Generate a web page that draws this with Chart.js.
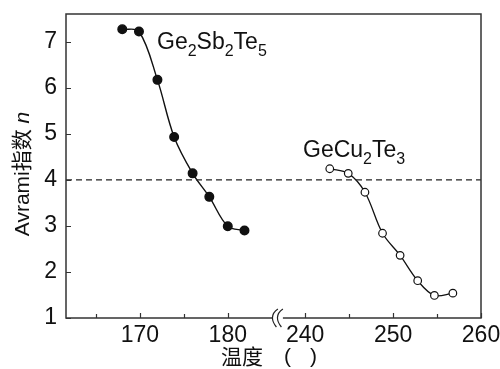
<!DOCTYPE html>
<html>
<head>
<meta charset="utf-8">
<script src="https://cdn.jsdelivr.net/npm/chart.js@4.4.1/dist/chart.umd.min.js"></script>
<style>
html,body{margin:0;padding:0;background:#fff;}
#wrap{width:500px;height:369px;}
</style>
</head>
<body>
<div id="wrap"><canvas id="c" width="500" height="369"></canvas></div>
<script>
// ---- data ----
const gstTemps = [168.0, 169.9, 172.0, 173.9, 176.0, 177.9, 180.0, 181.9];
const gstN     = [7.27, 7.22, 6.17, 4.93, 4.14, 3.63, 2.99, 2.90];
const gctTemps = [242.8, 244.9, 246.8, 248.8, 250.8, 252.8, 254.7, 256.8];
const gctN     = [4.24, 4.14, 3.73, 2.84, 2.36, 1.81, 1.49, 1.54];
const thresholdN = 4;
const xMajorTicks = [170, 180, 240, 250, 260];
const xMinorTicks = [165, 175, 245, 255];
const yTicks = [1, 2, 3, 4, 5, 6, 7];

// broken-axis mapping (right segment shifted left)
const GAP = 51.2;      // degrees removed by the axis break
const SPLIT = 210;     // temps above this belong to the right segment
const X_MIN = 161.6, X_MAX = 260 - GAP;
const BREAK_AT = 185.7;
const Y_MIN = 1, Y_MAX = 7.6;
const toAxis = t => t > SPLIT ? t - GAP : t;
const fromAxis = v => v > BREAK_AT ? v + GAP : v;

const FONT = "'Liberation Sans', Arial, Helvetica, sans-serif";
const CJK = "'Liberation Sans', 'Noto Sans CJK SC', 'Noto Sans CJK JP', sans-serif";
const INK = '#111';

const gstData = gstTemps.map((t, i) => ({x: toAxis(t), y: gstN[i]}));
const gctData = gctTemps.map((t, i) => ({x: toAxis(t), y: gctN[i]}));
const dashData = [{x: X_MIN, y: thresholdN}, {x: X_MAX, y: thresholdN}];

function drawSubText(ctx, x, y, parts, size) {
  let cx = x;
  for (const [s, sub] of parts) {
    ctx.font = (sub ? Math.round(size * 0.68) : size) + 'px ' + FONT;
    ctx.fillText(s, cx, sub ? y + size * 0.32 : y);
    cx += ctx.measureText(s).width;
  }
}

const decor = {
  id: 'decor',
  afterDatasetsDraw(chart) {
    const ctx = chart.ctx, a = chart.chartArea;
    const xs = chart.scales.x, ys = chart.scales.y;
    ctx.save();
    // frame
    ctx.strokeStyle = '#333';
    ctx.lineWidth = 1.5;
    ctx.strokeRect(a.left, a.top, a.right - a.left, a.bottom - a.top);
    // inward ticks
    ctx.lineWidth = 1.2;
    ctx.beginPath();
    for (const v of yTicks) {
      const py = Math.round(ys.getPixelForValue(v)) + 0.5;
      ctx.moveTo(a.left, py); ctx.lineTo(a.left + 5, py);
    }
    for (const t of xMajorTicks) {
      const px = Math.round(xs.getPixelForValue(toAxis(t))) + 0.5;
      ctx.moveTo(px, a.bottom); ctx.lineTo(px, a.bottom - 5);
    }
    for (const t of xMinorTicks) {
      const px = Math.round(xs.getPixelForValue(toAxis(t))) + 0.5;
      ctx.moveTo(px, a.bottom); ctx.lineTo(px, a.bottom - 4);
    }
    ctx.stroke();
    // axis break
    const bx = xs.getPixelForValue(BREAK_AT);
    ctx.fillStyle = '#fff';
    ctx.fillRect(bx - 5, a.bottom - 2, 10, 4);
    ctx.strokeStyle = '#222';
    ctx.lineWidth = 1.2;
    for (const dx of [-2.5, 2.5]) {
      const x0 = bx + dx;
      ctx.beginPath();
      ctx.moveTo(x0 + 2.5, a.bottom - 9);
      ctx.bezierCurveTo(x0 - 5, a.bottom - 4, x0 - 4, a.bottom + 3, x0 + 1, a.bottom + 9);
      ctx.stroke();
    }
    // series labels
    ctx.fillStyle = INK;
    ctx.textBaseline = 'alphabetic';
    ctx.textAlign = 'left';
    drawSubText(ctx, 157, 48.5, [['Ge', false], ['2', true], ['Sb', false], ['2', true], ['Te', false], ['5', true]], 23);
    drawSubText(ctx, 303, 157, [['GeCu', false], ['2', true], ['Te', false], ['3', true]], 23);
    // y title
    ctx.save();
    ctx.translate(23, 174);
    ctx.rotate(-Math.PI / 2);
    ctx.textBaseline = 'middle';
    const t1 = 'Avrami指数 ';
    ctx.font = '21px ' + CJK;
    const w1 = ctx.measureText(t1).width;
    ctx.font = 'italic 21px ' + FONT;
    const w2 = ctx.measureText('n').width;
    let sx = -(w1 + w2) / 2;
    ctx.font = '21px ' + CJK;
    ctx.fillText(t1, sx, 0);
    ctx.font = 'italic 21px ' + FONT;
    ctx.fillText('n', sx + w1, 0);
    ctx.restore();
    // x title
    ctx.textBaseline = 'alphabetic';
    ctx.font = '21px ' + CJK;
    ctx.fillText('温度', 221, 364);
    ctx.fillText('(', 284, 363);
    ctx.fillText(')', 310, 363);
    ctx.restore();
  }
};

new Chart(document.getElementById('c'), {
  type: 'line',
  data: {
    datasets: [
      {
        label: 'n = 4',
        data: dashData,
        borderColor: '#222',
        borderWidth: 1.3,
        borderDash: [6, 4],
        pointRadius: 0,
        fill: false
      },
      {
        label: 'Ge2Sb2Te5',
        data: gstData,
        borderColor: INK,
        backgroundColor: INK,
        borderWidth: 1.4,
        pointRadius: 4.3,
        pointBackgroundColor: INK,
        pointBorderColor: INK,
        tension: 0.35,
        fill: false
      },
      {
        label: 'GeCu2Te3',
        data: gctData,
        borderColor: INK,
        backgroundColor: '#fff',
        borderWidth: 1.3,
        pointRadius: 3.8,
        pointBackgroundColor: '#fff',
        pointBorderColor: INK,
        pointBorderWidth: 1.2,
        tension: 0.35,
        fill: false
      }
    ]
  },
  options: {
    responsive: false,
    animation: false,
    layout: {padding: {left: 0, right: 19, top: 14, bottom: 0}},
    plugins: {legend: {display: false}, tooltip: {enabled: false}},
    scales: {
      x: {
        type: 'linear',
        min: X_MIN,
        max: X_MAX,
        afterBuildTicks: s => { s.ticks = xMajorTicks.map(t => ({value: toAxis(t)})); },
        afterFit: s => { s.height = 51; s.paddingLeft = 0; s.paddingRight = 0; },
        grid: {display: false, drawTicks: false},
        border: {display: false},
        ticks: {
          autoSkip: false,
          maxRotation: 0,
          padding: 4,
          color: INK,
          font: {family: FONT, size: 23},
          callback: v => String(Math.round(fromAxis(v)))
        }
      },
      y: {
        type: 'linear',
        min: Y_MIN,
        max: Y_MAX,
        afterBuildTicks: s => { s.ticks = yTicks.map(v => ({value: v})); },
        afterFit: s => { s.width = 66; s.paddingTop = 0; s.paddingBottom = 0; },
        grid: {display: false, drawTicks: false},
        border: {display: false},
        ticks: {
          padding: 9,
          color: INK,
          font: {family: FONT, size: 23},
          callback: v => String(v)
        }
      }
    }
  },
  plugins: [decor]
});
</script>
</body>
</html>
